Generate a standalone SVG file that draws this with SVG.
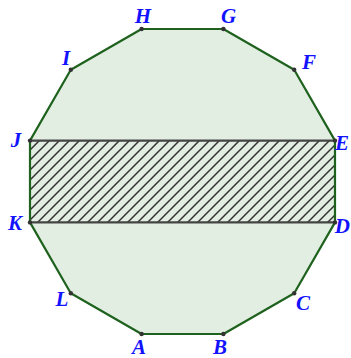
<svg xmlns="http://www.w3.org/2000/svg" width="351" height="358" viewBox="0 0 351 358">
<defs>
<pattern id="hatch" patternUnits="userSpaceOnUse" width="10" height="10">
<path d="M-1,11 L11,-1 M-6,6 L6,-6 M4,16 L16,4" stroke="#333" stroke-width="1.5"/>
</pattern>
<style>
.lbl{font-family:"Liberation Serif","DejaVu Serif",serif;font-weight:bold;font-style:italic;font-size:21px;fill:#1212ff;text-anchor:middle}
.edge{text-anchor:end}
.pt{fill:#333}
</style>
</defs>
<g id="dodecagon">
<polygon points="141.6,29 223.4,29 294.2,69.8 335,140.6 335,222.4 294.2,293.2 223.4,334 141.6,334 70.8,293.2 30,222.4 30,140.6 70.8,69.8" fill="#e3eee3" stroke="none"/>
</g>
<g id="rect">
<rect x="30" y="140.6" width="305" height="81.8" fill="url(#hatch)"/>
</g>
<g id="connectors">
<polygon points="141.6,29 223.4,29 294.2,69.8 335,140.6 335,222.4 294.2,293.2 223.4,334 141.6,334 70.8,293.2 30,222.4 30,140.6 70.8,69.8" fill="none" stroke="#1e621e" stroke-width="2.2" stroke-linejoin="round"/>
<line x1="30" y1="140.6" x2="335" y2="140.6" stroke="#444" stroke-width="2.2"/>
<line x1="30" y1="222.4" x2="335" y2="222.4" stroke="#444" stroke-width="2.2"/>
</g>
<g id="points">
<circle class="pt" cx="141.6" cy="29" r="2.2"/>
<circle class="pt" cx="223.4" cy="29" r="2.2"/>
<circle class="pt" cx="294.2" cy="69.8" r="2.2"/>
<circle class="pt" cx="335" cy="140.6" r="2.2"/>
<circle class="pt" cx="335" cy="222.4" r="2.2"/>
<circle class="pt" cx="294.2" cy="293.2" r="2.2"/>
<circle class="pt" cx="223.4" cy="334" r="2.2"/>
<circle class="pt" cx="141.6" cy="334" r="2.2"/>
<circle class="pt" cx="70.8" cy="293.2" r="2.2"/>
<circle class="pt" cx="30" cy="222.4" r="2.2"/>
<circle class="pt" cx="30" cy="140.6" r="2.2"/>
<circle class="pt" cx="70.8" cy="69.8" r="2.2"/>
</g>
<g id="labels">
<text class="lbl" x="143" y="23">H</text>
<text class="lbl" x="228.5" y="23">G</text>
<text class="lbl" x="309" y="69">F</text>
<text class="lbl edge" x="349" y="150">E</text>
<text class="lbl edge" x="350" y="233">D</text>
<text class="lbl" x="303" y="310">C</text>
<text class="lbl" x="220" y="353.5">B</text>
<text class="lbl" x="139" y="353.5">A</text>
<text class="lbl" x="62" y="306">L</text>
<text class="lbl" x="15" y="230">K</text>
<text class="lbl" x="16" y="147">J</text>
<text class="lbl" x="66" y="65">I</text>
</g>
</svg>
